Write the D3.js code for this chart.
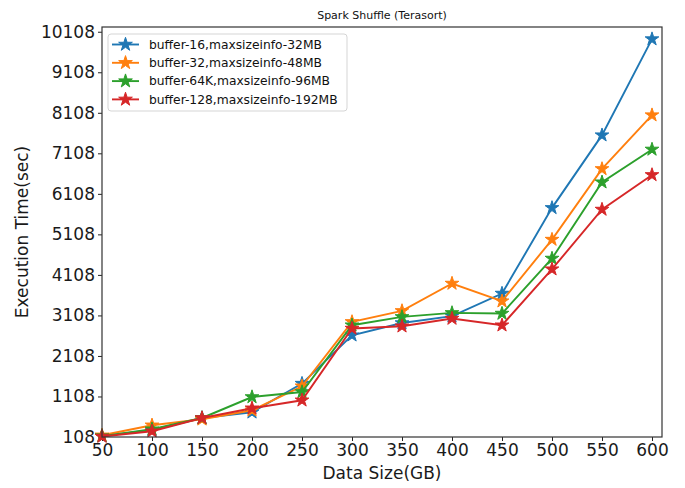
<!DOCTYPE html>
<html>
<head>
<meta charset="utf-8">
<script src="https://cdn.jsdelivr.net/npm/d3@7"></script>
<style>
  html, body { margin: 0; padding: 0; background: #fff; }
  svg { display: block; font-family: "DejaVu Sans", sans-serif; }
</style>
</head>
<body>
<svg id="chart" width="685" height="488"></svg>
<script>
// Data size (GB) on x, execution time (sec) per shuffle buffer configuration
const sizes = [50, 100, 150, 200, 250, 300, 350, 400, 450, 500, 550, 600];
const buffer16 = [130, 280, 577, 718, 1426, 2619, 2920, 3090, 3649, 5762, 7556, 9927];
const buffer32 = [150, 397, 545, 767, 1360, 2948, 3219, 3896, 3459, 4980, 6723, 8051];
const buffer64 = [130, 300, 577, 1095, 1219, 2866, 3071, 3170, 3155, 4513, 6395, 7204];
const buffer128 = [120, 250, 577, 817, 1014, 2785, 2841, 3031, 2866, 4249, 5722, 6575];
const seriesNames = [
  "buffer-16,maxsizeinfo-32MB",
  "buffer-32,maxsizeinfo-48MB",
  "buffer-64K,maxsizeinfo-96MB",
  "buffer-128,maxsizeinfo-192MB"
];
const colors = ["#1f77b4", "#ff7f0e", "#2ca02c", "#d62728"];
const yTicks = [108, 1108, 2108, 3108, 4108, 5108, 6108, 7108, 8108, 9108, 10108];
const xTicks = sizes;

const series = [buffer16, buffer32, buffer64, buffer128].map((vals, i) => ({
  name: seriesNames[i],
  color: colors[i],
  points: vals.map((v, j) => ({ x: sizes[j], y: v }))
}));

const svg = d3.select("#chart");
const plot = { left: 102, right: 662, top: 27, bottom: 437 };

const x = d3.scaleLinear().domain([50, 610]).range([plot.left, plot.right]);
const y = d3.scaleLinear().domain([108, 10225]).range([plot.bottom, plot.top]);

// axes
const xAxis = d3.axisBottom(x).tickValues(xTicks).tickSize(4).tickPadding(3).tickFormat(d3.format("d"));
const yAxis = d3.axisLeft(y).tickValues(yTicks).tickSize(4).tickPadding(3).tickFormat(d3.format("d"));

const gx = svg.append("g").attr("transform", `translate(0,${plot.bottom})`).call(xAxis);
const gy = svg.append("g").attr("transform", `translate(${plot.left},0)`).call(yAxis);
[gx, gy].forEach(g => {
  g.select(".domain").remove();
  g.selectAll(".tick line").attr("stroke", "#222").attr("stroke-width", 1);
  g.selectAll(".tick text").attr("fill", "#1a1a1a").style("font-size", "17px")
    .style("font-family", "DejaVu Sans, sans-serif");
});

// lines and star markers
const line = d3.line().x(d => x(d.x)).y(d => y(d.y));
const star = d3.symbol().type(d3.symbolStar).size(58);

const gPlot = svg.append("g");
series.forEach(s => {
  gPlot.append("path")
    .datum(s.points)
    .attr("d", line)
    .attr("fill", "none")
    .attr("stroke", s.color)
    .attr("stroke-width", 1.9);
  gPlot.selectAll(null)
    .data(s.points)
    .enter().append("path")
    .attr("d", star)
    .attr("transform", d => `translate(${x(d.x)},${y(d.y)})`)
    .attr("fill", s.color)
    .attr("stroke", s.color)
    .attr("stroke-width", 1);
});

// frame
svg.append("rect")
  .attr("x", plot.left).attr("y", plot.top)
  .attr("width", plot.right - plot.left).attr("height", plot.bottom - plot.top)
  .attr("fill", "none").attr("stroke", "#333").attr("stroke-width", 1.2);

// title and axis labels
svg.append("text")
  .attr("x", (plot.left + plot.right) / 2).attr("y", 19)
  .attr("text-anchor", "middle").style("font-size", "11px").attr("fill", "#111")
  .text("Spark Shuffle (Terasort)");

svg.append("text")
  .attr("x", (plot.left + plot.right) / 2).attr("y", 479)
  .attr("text-anchor", "middle").style("font-size", "17px").attr("fill", "#1a1a1a")
  .text("Data Size(GB)");

svg.append("text")
  .attr("transform", `translate(28,${(plot.top + plot.bottom) / 2}) rotate(-90)`)
  .attr("text-anchor", "middle").style("font-size", "17px").attr("fill", "#1a1a1a")
  .text("Execution Time(sec)");

// legend
const lg = svg.append("g");
lg.append("rect")
  .attr("x", 108).attr("y", 34).attr("width", 239).attr("height", 77)
  .attr("rx", 3).attr("fill", "#fff").attr("fill-opacity", 0.8)
  .attr("stroke", "#d5d5d5").attr("stroke-width", 1);
series.forEach((s, i) => {
  const cy = 44.5 + i * 18.3;
  lg.append("line")
    .attr("x1", 112).attr("x2", 139).attr("y1", cy).attr("y2", cy)
    .attr("stroke", s.color).attr("stroke-width", 1.9);
  lg.append("path")
    .attr("d", star)
    .attr("transform", `translate(125.5,${cy})`)
    .attr("fill", s.color).attr("stroke", s.color).attr("stroke-width", 1);
  lg.append("text")
    .attr("x", 149).attr("y", cy + 4.3)
    .style("font-size", "12.3px").attr("fill", "#111")
    .text(s.name);
});
</script>
</body>
</html>
